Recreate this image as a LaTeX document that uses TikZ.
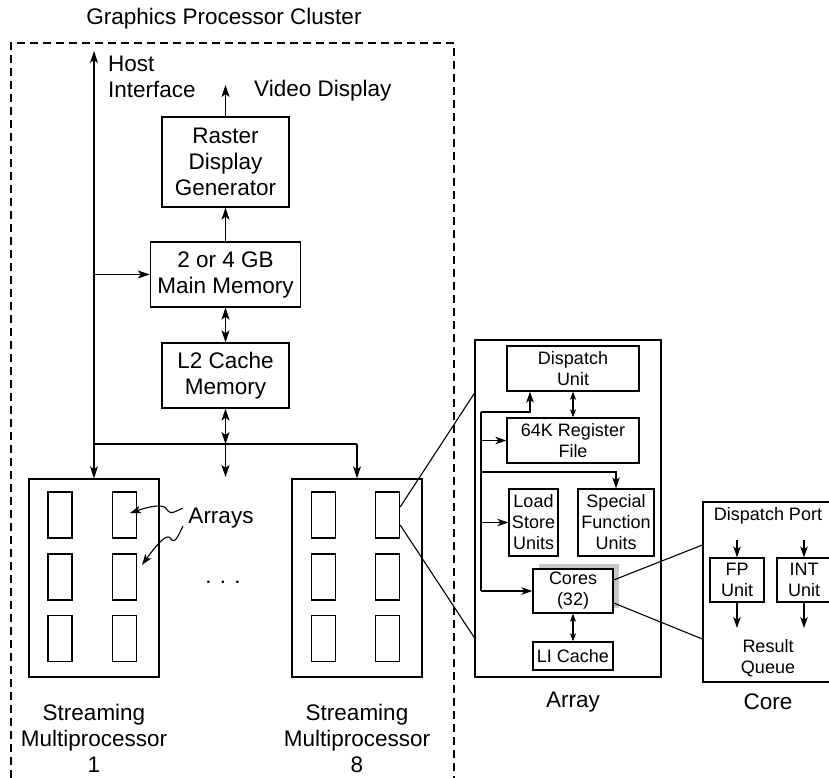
\documentclass[tikz,border=0pt]{standalone}
\usepackage{fontspec}
\setmainfont{Liberation Sans}
\usetikzlibrary{arrows.meta}
\begin{document}
\begin{tikzpicture}[x=1pt,y=-1pt,
  bx/.style={draw, line width=1.3pt, inner sep=0pt, align=center, fill=white, font=\fontsize{22.5}{26}\selectfont},
  sbx/.style={draw, line width=1.3pt, inner sep=0pt, align=center, fill=white, font=\fontsize{18}{21}\selectfont},
  lbl/.style={inner sep=0pt, align=center, font=\fontsize{22.5}{26}\selectfont},
  slbl/.style={inner sep=0pt, align=center, font=\fontsize{18}{21}\selectfont},
  arr/.style={line width=1.3pt, -{Stealth[length=12pt,width=8pt,inset=3pt]}},
  sarr/.style={line width=1.3pt, -{Stealth[length=11pt,width=7.5pt,inset=3pt]}},
  darr/.style={line width=1.3pt, {Stealth[length=12pt,width=8pt,inset=3pt]}-{Stealth[length=12pt,width=8pt,inset=3pt]}},
  sdarr/.style={line width=1.1pt, {Stealth[length=8pt,width=6pt,inset=2pt]}-{Stealth[length=8pt,width=6pt,inset=2pt]}},
  ln/.style={line width=1.3pt},
  cell/.style={draw, line width=1.3pt, minimum width=24pt, minimum height=46pt, inner sep=0pt},
  cluster/.style={line width=1.1pt, dash pattern=on 8pt off 5pt},
]
\useasboundingbox (0,0) rectangle (829,778);
\clip (0,0) rectangle (829,778);

% cluster
\draw[cluster] (11,778) -- (11,43) -- (454,43) -- (454,778);
\node[lbl] (title) at (224,19) {Graphics Processor Cluster};

% top blocks
\node[bx, minimum width=127pt, minimum height=90pt] (rast) at (225.5,162) {Raster\\Display\\Generator};
\node[bx, minimum width=150pt, minimum height=65pt] (mem) at (225.5,274.5) {2 or 4 GB\\Main Memory};
\node[bx, minimum width=127pt, minimum height=65pt] (l2) at (225.5,375.5) {L2 Cache\\Memory};

\node[lbl, align=left, anchor=west] (host) at (108,77) {Host\\Interface};
\node[lbl, anchor=west] (video) at (254,91) {Video Display};

% streaming multiprocessors
\node[draw, line width=1.3pt, minimum width=130pt, minimum height=198pt, inner sep=0pt] (sm1) at (94,578) {};
\node[draw, line width=1.3pt, minimum width=130pt, minimum height=198pt, inner sep=0pt] (sm8) at (357,578) {};
\foreach \r/\y in {1/515,2/577,3/638.5}{
  \node[cell] (c11\r) at (60,\y) {};
  \node[cell] (c12\r) at (124.5,\y) {};
  \node[cell] (c81\r) at (323.5,\y) {};
  \node[cell] (c82\r) at (387.5,\y) {};
}
\node[lbl] (arrays) at (221,518) {Arrays};
\node[lbl] (dots) at (223,582) {. . .};
\node[lbl] (sm1l) at (94,738) {Streaming\\Multiprocessor\\1};
\node[lbl] (sm8l) at (357,738) {Streaming\\Multiprocessor\\8};

% connectors top
\coordinate (hosttop) at (94,51);
\coordinate (vid) at (225.5,85);
\coordinate (bus1) at (94,444);
\coordinate (bus8) at (357,444);
\coordinate (dotsarr) at (225.5,477);
\draw[arr] (bus1) -- (hosttop);
\draw[arr] (bus1) -- (sm1.north);
\draw[ln] (bus1) -- (bus8);
\draw[arr] (bus8) -- (sm8.north);
\draw[arr] (mem.west -| hosttop) -- (mem.west);
\draw[arr] (mem.north) -- (rast.south);
\draw[arr] (rast.north) -- (vid);
\draw[darr] (mem.south) -- (l2.north);
\draw[darr] (l2.south) -- (l2.south |- bus1);
\draw[arr] (l2.south |- bus1) -- (dotsarr);

% squiggle pointers
\coordinate (sq1) at (183,508);
\coordinate (sq1e) at (130,513);
\coordinate (sq2) at (183,526);
\coordinate (sq2e) at (142,565);
\draw[line width=1.1pt, -{Stealth[length=11pt,width=7.5pt,inset=3pt]}] (sq1) .. controls (176,511) and (171,515) .. (168,511) .. controls (166,506) and (160,503) .. (sq1e);
\draw[line width=1.1pt, -{Stealth[length=11pt,width=7.5pt,inset=3pt]}] (sq2) .. controls (179,534) and (175,545) .. (171,539) .. controls (168,533) and (160,540) .. (sq2e);

% array
\node[draw, line width=1.3pt, minimum width=186pt, minimum height=337pt, inner sep=0pt] (array) at (568,508.5) {};
\draw[line width=1.1pt] ([yshift=8pt]c821.east) -- ([yshift=-54pt]array.north west);
\draw[line width=1.1pt] ([yshift=-10pt]c821.east) -- ([yshift=40pt]array.south west);
\node[sbx, minimum width=132pt, minimum height=45pt] (disp) at (573,368.5) {Dispatch\\Unit};
\node[sbx, minimum width=132pt, minimum height=45pt] (reg) at (573,440.5) {64K Register\\File};
\node[sbx, minimum width=49pt, minimum height=67pt] (ls) at (533.5,522.5) {Load\\Store\\Units};
\node[sbx, minimum width=76pt, minimum height=67pt] (sf) at (616,522.5) {Special\\Function\\Units};
\fill[black!22] (539,564) rectangle (619,608);
\node[sbx, minimum width=80pt, minimum height=44pt] (cores) at (573,591) {Cores\\(32)};
\node[sbx, minimum width=80pt, minimum height=28pt] (l1) at (573,656) {LI Cache};
\node[lbl] (arrayl) at (573,702) {Array};

\coordinate (abt) at (481,412);
\coordinate (sft) at (481,472);
\draw[ln] (abt) -- (abt |- cores.west);
\draw[sarr] (abt) -| ([xshift=-43pt]disp.south);
\draw[sarr] (abt |- reg.west) -- (reg.west);
\draw[sarr] (sft) -| (sf.north);
\draw[sarr] (abt |- ls.west) -- (ls.west);
\draw[sarr] (abt |- cores.west) -- (cores.west);
\draw[sdarr] (disp.south) -- (reg.north);
\draw[sdarr] (cores.south) -- (l1.north);

% core
\node[draw, line width=1.3pt, minimum width=129pt, minimum height=180pt, inner sep=0pt] (core) at (767.5,592) {};
\draw[line width=1.1pt] ([yshift=11pt]cores.east) -- ([yshift=47pt]core.west);
\draw[line width=1.1pt] ([yshift=-12pt]cores.east) -- ([yshift=-47pt]core.west);
\node[slbl] (dport) at (768,516) {Dispatch Port};
\node[sbx, minimum width=54pt, minimum height=44pt] (fp) at (737,580) {FP\\Unit};
\node[sbx, minimum width=54pt, minimum height=44pt] (int) at (804,580) {INT\\Unit};
\node[slbl] (rq) at (768,658) {Result\\Queue};
\node[lbl] (corel) at (768,702) {Core};
\coordinate (dpb) at (737,540);
\coordinate (fpo) at (737,628);
\coordinate (into) at (804,628);
\draw[sarr] (fp.north |- dpb) -- (fp.north);
\draw[sarr] (int.north |- dpb) -- (int.north);
\draw[sarr] (fp.south) -- (fpo);
\draw[sarr] (int.south) -- (into);
\end{tikzpicture}
\end{document}
